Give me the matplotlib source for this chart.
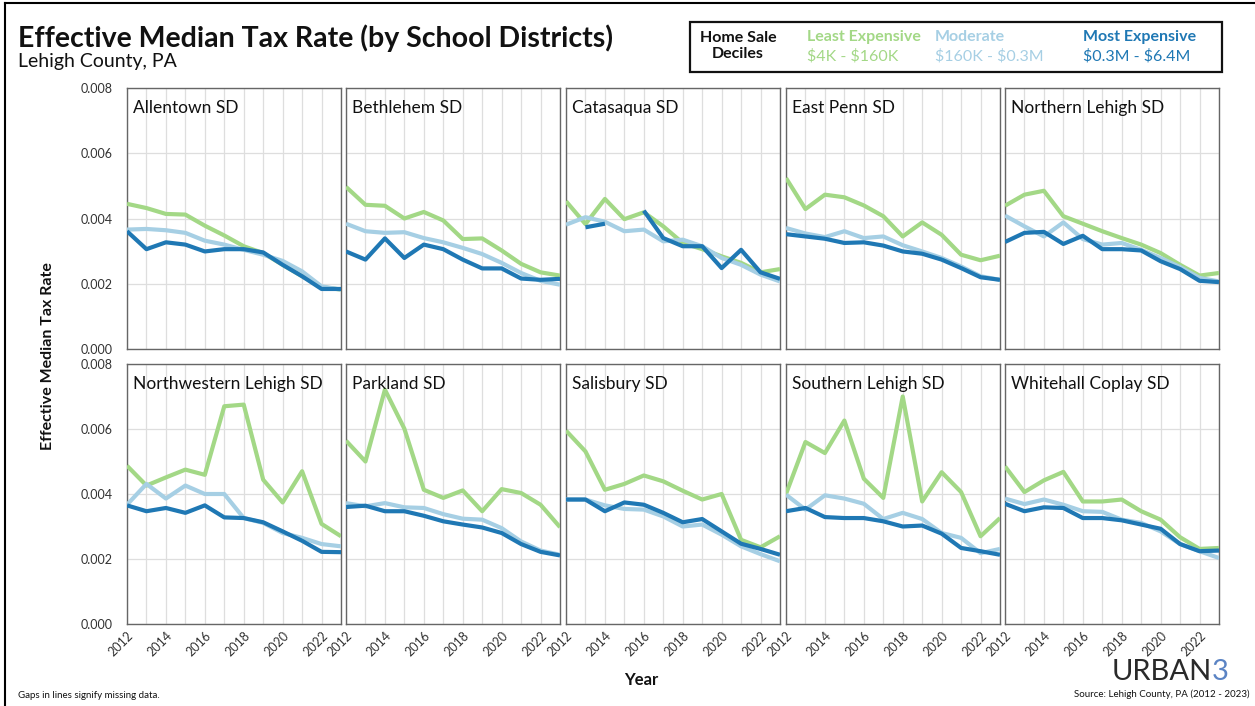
import numpy as np
import matplotlib
matplotlib.use("Agg")
import matplotlib.pyplot as plt
from matplotlib.patches import Rectangle
from matplotlib.lines import Line2D

plt.rcParams['font.family'] = ['Lato', 'DejaVu Sans']

years = list(range(2012, 2024))
districts = ["Allentown SD", "Bethlehem SD", "Catasaqua SD", "East Penn SD", "Northern Lehigh SD",
             "Northwestern Lehigh SD", "Parkland SD", "Salisbury SD", "Southern Lehigh SD", "Whitehall Coplay SD"]
nan = float('nan')

least = {
    "Allentown SD": [0.00445, 0.00432, 0.00414, 0.00412, 0.00378, 0.00348, 0.00315, 0.00294, 0.00258, 0.00223, 0.00190, 0.00182],
    "Bethlehem SD": [0.00497, 0.00442, 0.00439, 0.00400, 0.00420, 0.00394, 0.00337, 0.00339, 0.00302, 0.00261, 0.00235, 0.00225],
    "Catasaqua SD": [0.00453, 0.00383, 0.00460, 0.00398, 0.00419, 0.00376, 0.00325, 0.00306, 0.00284, 0.00264, 0.00235, 0.00245],
    "East Penn SD": [0.00524, 0.00429, 0.00473, 0.00465, 0.00440, 0.00407, 0.00345, 0.00388, 0.00350, 0.00289, 0.00272, 0.00286],
    "Northern Lehigh SD": [0.00439, 0.00473, 0.00485, 0.00407, 0.00384, 0.00361, 0.00340, 0.00320, 0.00294, 0.00258, 0.00225, 0.00233],
    "Northwestern Lehigh SD": [0.00487, 0.00426, 0.00451, 0.00475, 0.00459, 0.00670, 0.00675, 0.00444, 0.00374, 0.00470, 0.00308, 0.00270],
    "Parkland SD": [0.00564, 0.00500, 0.00721, 0.00601, 0.00413, 0.00388, 0.00411, 0.00347, 0.00415, 0.00403, 0.00367, 0.00298],
    "Salisbury SD": [0.00595, 0.00531, 0.00413, 0.00431, 0.00457, 0.00439, 0.00410, 0.00383, 0.00400, 0.00259, 0.00236, 0.00270],
    "Southern Lehigh SD": [0.00400, 0.00560, 0.00526, 0.00626, 0.00447, 0.00388, 0.00700, 0.00377, 0.00467, 0.00406, 0.00270, 0.00326],
    "Whitehall Coplay SD": [0.00485, 0.00406, 0.00442, 0.00468, 0.00377, 0.00377, 0.00383, 0.00347, 0.00321, 0.00267, 0.00231, 0.00234],
}
moderate = {
    "Allentown SD": [0.00366, 0.00368, 0.00364, 0.00356, 0.00332, 0.00320, 0.00304, 0.00289, 0.00270, 0.00238, 0.00192, 0.00182],
    "Bethlehem SD": [0.00384, 0.00361, 0.00356, 0.00358, 0.00340, 0.00327, 0.00310, 0.00291, 0.00264, 0.00233, 0.00209, 0.00197],
    "Catasaqua SD": [0.00381, 0.00404, 0.00390, 0.00361, 0.00366, 0.00330, 0.00335, 0.00315, 0.00279, 0.00258, 0.00228, 0.00207],
    "East Penn SD": [0.00371, 0.00354, 0.00343, 0.00361, 0.00340, 0.00345, 0.00318, 0.00299, 0.00279, 0.00253, 0.00223, 0.00212],
    "Northern Lehigh SD": [0.00409, 0.00376, 0.00345, 0.00388, 0.00337, 0.00320, 0.00325, 0.00304, 0.00279, 0.00251, 0.00218, 0.00207],
    "Northwestern Lehigh SD": [0.00367, 0.00431, 0.00386, 0.00426, 0.00400, 0.00400, 0.00326, 0.00311, 0.00280, 0.00265, 0.00246, 0.00239],
    "Parkland SD": [0.00372, 0.00362, 0.00372, 0.00359, 0.00357, 0.00338, 0.00324, 0.00321, 0.00295, 0.00254, 0.00226, 0.00213],
    "Salisbury SD": [0.00383, 0.00383, 0.00365, 0.00354, 0.00352, 0.00331, 0.00300, 0.00306, 0.00275, 0.00239, 0.00215, 0.00193],
    "Southern Lehigh SD": [0.00398, 0.00352, 0.00396, 0.00386, 0.00370, 0.00323, 0.00342, 0.00323, 0.00280, 0.00265, 0.00218, 0.00231],
    "Whitehall Coplay SD": [0.00386, 0.00369, 0.00383, 0.00367, 0.00347, 0.00345, 0.00321, 0.00311, 0.00285, 0.00246, 0.00224, 0.00203],
}
most = {
    "Allentown SD": [0.00361, 0.00306, 0.00327, 0.00320, 0.00299, 0.00306, 0.00306, 0.00296, 0.00258, 0.00223, 0.00184, 0.00184],
    "Bethlehem SD": [0.00299, 0.00274, 0.00339, 0.00279, 0.00320, 0.00306, 0.00274, 0.00247, 0.00247, 0.00216, 0.00212, 0.00215],
    "Catasaqua SD": [nan, 0.00373, 0.00384, nan, 0.00424, 0.00340, 0.00315, 0.00315, 0.00248, 0.00304, 0.00235, 0.00215],
    "East Penn SD": [0.00352, 0.00345, 0.00338, 0.00325, 0.00327, 0.00317, 0.00299, 0.00292, 0.00274, 0.00248, 0.00220, 0.00212],
    "Northern Lehigh SD": [0.00328, 0.00356, 0.00359, 0.00322, 0.00347, 0.00306, 0.00306, 0.00302, 0.00269, 0.00245, 0.00209, 0.00205],
    "Northwestern Lehigh SD": [0.00365, 0.00347, 0.00357, 0.00342, 0.00365, 0.00328, 0.00326, 0.00313, 0.00285, 0.00256, 0.00222, 0.00221],
    "Parkland SD": [0.00360, 0.00364, 0.00347, 0.00347, 0.00333, 0.00316, 0.00306, 0.00297, 0.00280, 0.00246, 0.00222, 0.00211],
    "Salisbury SD": [0.00383, 0.00383, 0.00347, 0.00374, 0.00367, 0.00342, 0.00313, 0.00323, 0.00285, 0.00247, 0.00231, 0.00213],
    "Southern Lehigh SD": [0.00347, 0.00357, 0.00329, 0.00326, 0.00326, 0.00316, 0.00300, 0.00303, 0.00278, 0.00234, 0.00224, 0.00213],
    "Whitehall Coplay SD": [0.00370, 0.00347, 0.00359, 0.00357, 0.00326, 0.00326, 0.00319, 0.00306, 0.00293, 0.00246, 0.00224, 0.00226],
}

C_LEAST = "#a3d886"
C_MOD = "#a6cfe4"
C_MOST = "#1f78b4"

W, H = 1255, 706
fig = plt.figure(figsize=(W / 100, H / 100), dpi=100)

lefts = [127, 346, 566, 786, 1005]
pw = 214
rows = [(88, 349), (364, 624)]

def fx(x):
    return x / W

def fy(y):
    return 1 - y / H

for i, name in enumerate(districts):
    r, c = divmod(i, 5)
    top, bot = rows[r]
    ax = fig.add_axes([fx(lefts[c]), fy(bot), pw / W, (bot - top) / H])
    ax.plot(years, least[name], color=C_LEAST, lw=3.0, solid_capstyle='butt', zorder=3)
    ax.plot(years, moderate[name], color=C_MOD, lw=3.0, solid_capstyle='butt', zorder=4)
    ax.plot(years, most[name], color=C_MOST, lw=3.0, solid_capstyle='butt', zorder=5)
    ax.set_xlim(2012, 2023)
    ax.set_ylim(0, 0.008)
    ax.set_xticks(list(range(2012, 2023, 2)))
    ax.set_xticks(years, minor=True)
    ax.set_yticks([0, 0.002, 0.004, 0.006, 0.008])
    ax.grid(True, which='both', axis='x', color='#dedede', lw=0.9, zorder=0)
    ax.grid(True, which='major', axis='y', color='#dedede', lw=0.9, zorder=0)
    ax.tick_params(which='both', length=0, labelsize=9, colors='#333333')
    ax.tick_params(axis='y', pad=10)
    if c == 0:
        ax.set_yticklabels(["0.000", "0.002", "0.004", "0.006", "0.008"])
    else:
        ax.set_yticklabels([])
    if r == 1:
        ax.set_xticklabels([str(y) for y in range(2012, 2023, 2)], rotation=45,
                           ha='right', va='top', rotation_mode='anchor')
        ax.tick_params(axis='x', pad=4)
    else:
        ax.set_xticklabels([])
    for s in ax.spines.values():
        s.set_color('#666666')
        s.set_linewidth(1.0)
    ax.text(0.03, 0.955, name, transform=ax.transAxes, ha='left', va='top',
            fontsize=12.5, color='#111111')

# Titles
fig.text(fx(18), fy(38), "Effective Median Tax Rate (by School Districts)", fontsize=20.5,
         fontweight='bold', ha='left', va='center', color='#111111')
fig.text(fx(18), fy(62), "Lehigh County, PA", fontsize=14, ha='left', va='center', color='#111111')

fig.text(fx(48), fy(356), "Effective Median Tax Rate", rotation=90, fontsize=11.5,
         fontweight='bold', ha='center', va='center', color='#111111')
fig.text(fx(641), fy(680), "Year", fontsize=12, fontweight='bold', ha='center', va='center', color='#111111')

# Legend box
fig.patches.append(Rectangle((fx(690), fy(72)), 532 / W, 50 / H, transform=fig.transFigure,
                             fill=False, edgecolor='#111111', lw=1.6))
fig.text(fx(738), fy(46), "Home Sale\nDeciles", fontsize=11.5, fontweight='bold', ha='center',
         va='center', color='#111111', linespacing=1.15)
for x0, head, rng, col in [(807, "Least Expensive", r"\$4K - \$160K", C_LEAST),
                           (935, "Moderate", r"\$160K - \$0.3M", C_MOD),
                           (1083, "Most Expensive", r"\$0.3M - \$6.4M", C_MOST)]:
    fig.text(fx(x0), fy(37), head, fontsize=11.5, fontweight='bold', ha='left', va='center', color=col)
    fig.text(fx(x0), fy(56), rng, fontsize=11.5, ha='left', va='center', color=col)

# Footer
fig.text(fx(18), fy(695), "Gaps in lines signify missing data.", fontsize=7, ha='left', va='center', color='#111111')
fig.text(fx(1250), fy(694), "Source: Lehigh County, PA (2012 - 2023)", fontsize=7, ha='right', va='center', color='#111111')
fig.text(fx(1212), fy(672), "URBAN", fontsize=21, fontweight='normal', ha='right', va='center', color='#2a2a2a')
fig.text(fx(1212), fy(672), "3", fontsize=21, fontweight='normal', ha='left', va='center', color='#5b84c4')

# Frame lines (left and top)
fig.add_artist(Line2D([fx(5), fx(5)], [0, fy(3)], transform=fig.transFigure, color='black', lw=1.5))
fig.add_artist(Line2D([fx(5), 1], [fy(3), fy(3)], transform=fig.transFigure, color='black', lw=1.5))

fig.savefig("out.png", dpi=100)
